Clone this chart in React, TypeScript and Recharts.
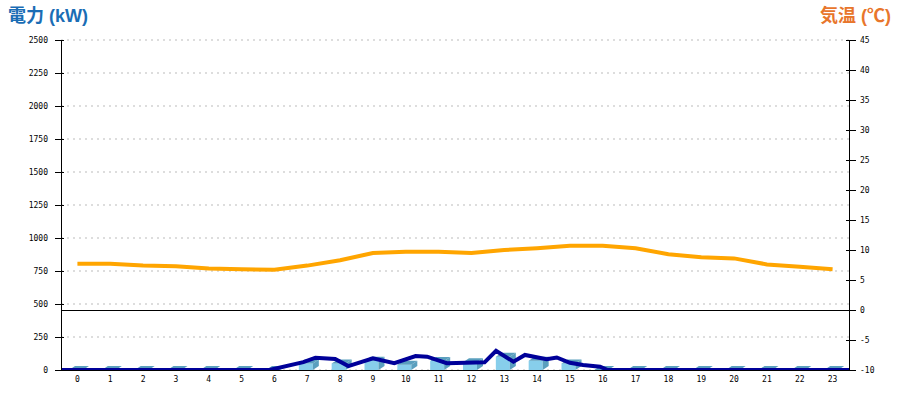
import React from 'react';
import { ComposedChart, Bar, Line, XAxis, YAxis, CartesianGrid, ReferenceLine } from 'recharts';

const hours = ['0','1','2','3','4','5','6','7','8','9','10','11','12','13','14','15','16','17','18','19','20','21','22','23'];
const hourlyKw = [0,0,0,0,0,0,0,50,50,70,40,68,58,100,70,50,0,0,0,0,0,0,0,0];
const temperature = [7.7,7.7,7.4,7.3,6.9,6.8,6.7,7.4,8.3,9.5,9.7,9.7,9.5,10.0,10.3,10.7,10.7,10.3,9.3,8.8,8.6,7.6,7.2,6.8];
const lineTimes = [0,6.35,7.38,7.75,8.35,8.75,9.5,10.15,10.8,11.15,11.75,12.9,13.25,13.78,14.13,14.79,15.1,15.5,15.9,16.42,16.65,24];
const lineKw = [0,0,60,93,83,30,89,51,106,101,51,58,146,63,114,81,95,55,38,25,0,0];
const kwTicks = [0,250,500,750,1000,1250,1500,1750,2000,2250,2500];
const tempTicks = [-10,-5,0,5,10,15,20,25,30,35,40,45];

const chartData = hours.map((h, i) => ({ hour: h, kw: hourlyKw[i], temp: temperature[i] }));
const lineData = lineTimes.map((t, i) => ({ t, kw: lineKw[i] }));

const FONT = '"DejaVu Sans Mono", monospace';
const TITLE_FONT = '"Liberation Sans", "Noto Sans CJK JP", sans-serif';

const LeftTick = (props: any) => {
  const { x, y, payload } = props;
  return (
    <g>
      <line x1={x - 6} x2={x + 3} y1={y} y2={y} stroke="#000" shapeRendering="crispEdges" />
      <text x={x - 13} y={y} dy={3} textAnchor="end" fontSize={8} fontFamily={FONT} fill="#000">{payload.value}</text>
    </g>
  );
};

const RightTick = (props: any) => {
  const { x, y, payload } = props;
  return (
    <g>
      <line x1={x - 3} x2={x + 7} y1={y} y2={y} stroke="#000" shapeRendering="crispEdges" />
      <text x={x + 11} y={y} dy={3} textAnchor="start" fontSize={8} fontFamily={FONT} fill="#000">{payload.value}</text>
    </g>
  );
};

const BottomTick = (props: any) => {
  const { x, y, payload } = props;
  return (
    <text x={x} y={y + 12} textAnchor="middle" fontSize={8} fontFamily={FONT} fill="#000">{payload.value}</text>
  );
};

const Bar3D = (props: any) => {
  const { x, y, width, height } = props;
  if (x == null || y == null) return null;
  const dx = 6;
  const dy = 4;
  const h = Math.max(0, height || 0);
  const x0 = x - 1;
  const side = '#5A9FBE';
  return (
    <g>
      <rect x={x0} y={y} width={width} height={h} fill="#87CEEB" />
      <polygon points={`${x0},${y} ${x0 + dx},${y - dy} ${x0 + width + dx},${y - dy} ${x0 + width},${y}`} fill={side} />
      <polygon points={`${x0 + width},${y} ${x0 + width + dx},${y - dy} ${x0 + width + dx},${y + h - dy} ${x0 + width},${y + h}`} fill={side} />
    </g>
  );
};

export default function App() {
  return (
    <div style={{ position: 'absolute', left: 0, top: 0, width: 900, height: 400, background: '#fff' }}>
      <div style={{ position: 'absolute', left: 8, top: 7, fontFamily: TITLE_FONT, fontWeight: 700, fontSize: 18, lineHeight: '19px', color: '#1A6DB5', whiteSpace: 'nowrap' }}>電力 (kW)</div>
      <div style={{ position: 'absolute', right: 9, top: 7, fontFamily: TITLE_FONT, fontWeight: 700, fontSize: 18, lineHeight: '19px', color: '#E8762C', whiteSpace: 'nowrap' }}>気温 (℃)</div>
      <ComposedChart width={900} height={400} data={chartData} margin={{ top: 40, right: 11, bottom: 10, left: 11 }}>
        <CartesianGrid xAxisId="cat" yAxisId="kw" vertical={false} stroke="#BBBBBB" strokeDasharray="2 4" />
        <XAxis xAxisId="cat" dataKey="hour" type="category" height={20} tick={<BottomTick />} tickLine={false} tickSize={0} tickMargin={0} axisLine={{ stroke: '#000', shapeRendering: 'crispEdges' }} interval={0} />
        <XAxis xAxisId="time" dataKey="t" type="number" domain={[0, 24]} hide allowDataOverflow />
        <YAxis yAxisId="kw" orientation="left" width={50} domain={[0, 2500]} ticks={kwTicks} interval={0} tick={<LeftTick />} tickLine={false} tickSize={0} tickMargin={0} axisLine={{ stroke: '#000', shapeRendering: 'crispEdges' }} allowDataOverflow />
        <YAxis yAxisId="temp" orientation="right" width={40} domain={[-10, 45]} ticks={tempTicks} interval={0} tick={<RightTick />} tickLine={false} tickSize={0} tickMargin={0} axisLine={{ stroke: '#000', shapeRendering: 'crispEdges' }} allowDataOverflow />
        <ReferenceLine xAxisId="cat" yAxisId="temp" y={0} stroke="#000" shapeRendering="crispEdges" />
        <Bar xAxisId="cat" yAxisId="kw" dataKey="kw" barSize={14} shape={<Bar3D />} isAnimationActive={false} />
        <Line xAxisId="time" yAxisId="kw" data={lineData} dataKey="kw" type="linear" stroke="#000099" strokeWidth={4} dot={false} isAnimationActive={false} />
        <Line xAxisId="cat" yAxisId="temp" dataKey="temp" type="linear" stroke="#FFA500" strokeWidth={4} dot={false} isAnimationActive={false} />
      </ComposedChart>
    </div>
  );
}
